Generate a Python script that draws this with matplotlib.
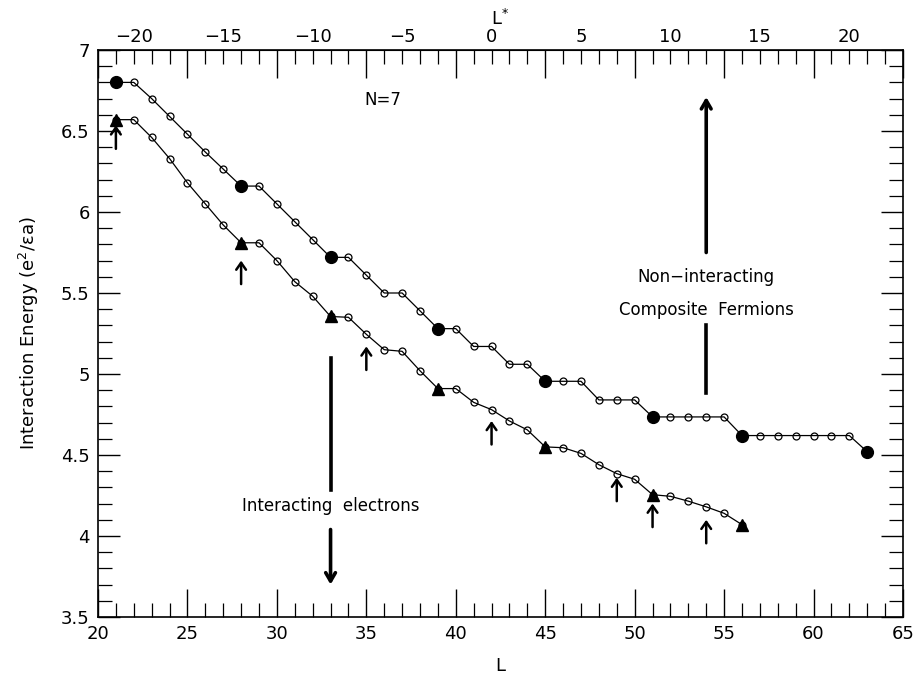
import matplotlib
matplotlib.use("Agg")
import matplotlib.pyplot as plt
from matplotlib.ticker import MultipleLocator

# ---- data ----
L_cf = list(range(21, 64))
E_cf = [6.80, 6.80, 6.70, 6.59, 6.48, 6.37, 6.265, 6.16, 6.16, 6.05,
        5.94, 5.83, 5.72, 5.72, 5.61, 5.50, 5.50, 5.39, 5.28, 5.28,
        5.17, 5.17, 5.06, 5.06, 4.955, 4.955, 4.955, 4.84, 4.84, 4.84,
        4.735, 4.735, 4.735, 4.735, 4.735, 4.62, 4.62, 4.62, 4.62, 4.62,
        4.62, 4.62, 4.52]
L_cf_filled = [21, 28, 33, 39, 45, 51, 56, 63]

L_el = list(range(21, 57))
E_el = [6.57, 6.57, 6.46, 6.33, 6.18, 6.05, 5.92, 5.81, 5.81, 5.70,
        5.57, 5.48, 5.355, 5.35, 5.245, 5.15, 5.14, 5.02, 4.91, 4.91,
        4.825, 4.78, 4.71, 4.655, 4.55, 4.545, 4.51, 4.44, 4.385, 4.35,
        4.255, 4.245, 4.215, 4.18, 4.14, 4.07]
L_el_filled = [21, 28, 33, 39, 45, 51, 56]

arrow_L = [21, 28, 35, 42, 49, 51, 54]
arrow_tip = [6.535, 5.70, 5.17, 4.71, 4.36, 4.20, 4.10]
arrow_len = 0.145

x_ticks = list(range(20, 66, 5))
y_ticks = [3.5, 4, 4.5, 5, 5.5, 6, 6.5, 7]
top_ticks = list(range(-20, 21, 5))
L_shift = 42

# ---- figure ----
plt.rcParams['font.family'] = ['DejaVu Sans']
fig = plt.figure(figsize=(9.18, 6.8), dpi=100)
ax = fig.add_axes([98/918, 1-617/680, (903-98)/918, (617-50)/680])

ax.plot(L_cf, E_cf, color='black', lw=0.9, marker='o', ms=5,
        mfc='none', mec='black', mew=0.9, zorder=2)
ax.plot(L_el, E_el, color='black', lw=0.9, marker='o', ms=5,
        mfc='none', mec='black', mew=0.9, zorder=2)
# filled markers
cf_map = dict(zip(L_cf, E_cf))
el_map = dict(zip(L_el, E_el))
ax.plot(L_cf_filled, [cf_map[l] for l in L_cf_filled], 'o', color='black',
        ms=8.5, ls='none', zorder=3)
ax.plot(L_el_filled, [el_map[l] for l in L_el_filled], '^', color='black',
        ms=8.5, ls='none', zorder=3)

# small arrows
for l, t in zip(arrow_L, arrow_tip):
    ax.annotate('', xy=(l, t), xytext=(l, t - arrow_len),
                arrowprops=dict(arrowstyle='->,head_length=0.5,head_width=0.35',
                                color='black', lw=1.8, shrinkA=0, shrinkB=0))

# big annotations
ax.annotate('', xy=(54, 6.71), xytext=(54, 5.75),
            arrowprops=dict(arrowstyle='->,head_length=0.6,head_width=0.35',
                            color='black', lw=2.6, shrinkA=0, shrinkB=0))
ax.text(54, 5.60, 'Non\u2212interacting', ha='center', va='center', fontsize=12)
ax.text(54, 5.395, 'Composite  Fermions', ha='center', va='center', fontsize=12)
ax.plot([54, 54], [5.30, 4.885], color='black', lw=2.6)

ax.plot([33, 33], [5.10, 4.285], color='black', lw=2.6)
ax.text(33, 4.185, 'Interacting  electrons', ha='center', va='center', fontsize=12)
ax.annotate('', xy=(33, 3.70), xytext=(33, 4.04),
            arrowprops=dict(arrowstyle='->,head_length=0.6,head_width=0.35',
                            color='black', lw=2.6, shrinkA=0, shrinkB=0))

ax.text(35.9, 6.69, 'N=7', ha='center', va='center', fontsize=12)

# axes
ax.set_xlim(20, 65)
ax.set_ylim(3.5, 7)
ax.set_xticks(x_ticks)
ax.set_yticks(y_ticks)
ax.set_yticklabels(['3.5', '4', '4.5', '5', '5.5', '6', '6.5', '7'])
ax.xaxis.set_minor_locator(MultipleLocator(1))
ax.yaxis.set_minor_locator(MultipleLocator(0.1))
ax.tick_params(which='major', direction='in', length=20, width=1,
               top=True, right=True, labelsize=13, pad=6)
ax.tick_params(axis='y', which='major', length=16)
ax.tick_params(which='minor', direction='in', length=10, width=0.9,
               top=True, right=True)
for s in ax.spines.values():
    s.set_linewidth(1.2)

ax.set_xlabel('L', fontsize=13, labelpad=10)
ax.set_ylabel('Interaction Energy (e$^2$/\u03b5a)', fontsize=13, labelpad=14)

sec = ax.secondary_xaxis('top', functions=(lambda x: x - L_shift, lambda x: x + L_shift))
sec.set_xticks(top_ticks)
sec.set_xticklabels([str(t).replace('-', '\u2212') for t in top_ticks])
sec.tick_params(length=0, labelsize=13, pad=3)
sec.set_xlabel('L$^{*}$', fontsize=13, labelpad=2)

fig.savefig('out.png', dpi=100)
